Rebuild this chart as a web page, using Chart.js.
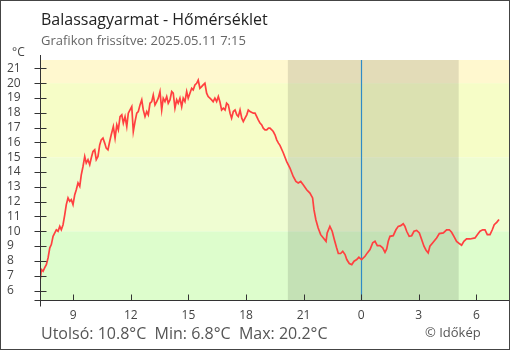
<!DOCTYPE html>
<html>
<head>
<meta charset="utf-8">
<script src="https://cdn.jsdelivr.net/npm/chart.js@4"></script>
<style>
  html, body { margin: 0; padding: 0; background: #fff; }
  #wrap { width: 510px; height: 350px; }
</style>
</head>
<body>
<div id="wrap"><canvas id="tempChart" width="510" height="350"></canvas></div>
<script>
var FONT = "'Open Sans', 'Noto Sans', sans-serif";

// measurement times, hours since the previous midnight (24 = 0:00 next day)
var hours = [
  7.29, 7.34, 7.43, 7.51, 7.60, 7.69, 7.78, 7.86, 7.95, 8.04, 8.12, 8.21, 8.30, 8.38, 8.47,
  8.56, 8.64, 8.73, 8.82, 8.90, 8.99, 9.08, 9.16, 9.25, 9.34, 9.42, 9.51, 9.60, 9.68, 9.77,
  9.86, 9.94, 10.03, 10.12, 10.20, 10.29, 10.38, 10.46, 10.55, 10.64, 10.72, 10.81, 10.90, 10.98,
  11.09, 11.18, 11.27, 11.35, 11.44, 11.53, 11.61, 11.70, 11.79, 11.87, 11.96, 12.05, 12.13, 12.22, 12.31,
  12.39, 12.48, 12.57, 12.65, 12.74, 12.83, 12.91, 13.00, 13.09, 13.17, 13.26, 13.35, 13.43, 13.52, 13.61,
  13.69, 13.78, 13.87, 13.95, 14.04, 14.13, 14.21, 14.30, 14.39, 14.47, 14.56, 14.65, 14.73, 14.82, 14.91,
  14.99, 15.08, 15.17, 15.25, 15.34, 15.43, 15.51, 15.60, 15.69, 15.77, 15.86, 15.95, 16.03, 16.12, 16.21,
  16.29, 16.38, 16.47, 16.56, 16.64, 16.73, 16.82, 16.91, 16.99, 17.08, 17.17, 17.25, 17.34, 17.43, 17.52,
  17.60, 17.69, 17.78, 17.86, 17.95, 18.04, 18.12, 18.21, 18.38, 18.47, 18.56, 18.64, 18.73, 18.82, 18.90,
  18.99, 19.08, 19.17, 19.25, 19.34, 19.42, 19.51, 19.60, 19.69, 19.77, 19.94, 20.12, 20.29, 20.46, 20.60,
  20.72, 20.85, 20.98, 21.16, 21.33, 21.47, 21.54, 21.64, 21.76, 21.89, 22.03, 22.17, 22.23, 22.37, 22.49,
  22.60, 22.72, 22.81, 22.93, 23.04, 23.16, 23.25, 23.38, 23.51, 23.63, 23.77, 23.88, 24.02, 24.20, 24.32,
  24.46, 24.60, 24.72, 24.84, 24.98, 25.12, 25.24, 25.33, 25.41, 25.50, 25.67, 25.81, 25.93, 26.06, 26.19,
  26.28, 26.37, 26.50, 26.63, 26.75, 26.89, 27.03, 27.15, 27.27, 27.38, 27.49, 27.58, 27.75, 27.93, 28.07,
  28.28, 28.45, 28.59, 28.71, 28.83, 28.97, 29.11, 29.23, 29.35, 29.49, 29.67, 29.93, 30.05, 30.19, 30.33,
  30.45, 30.57, 30.71, 30.83, 30.93, 31.06, 31.18
];
// temperature, °C
var temps = [
  6.8, 7.42, 7.3, 7.53, 7.75, 8.2, 8.88, 9.1, 9.66, 9.89, 10.1, 10.0, 10.33, 10.1, 10.44,
  11.12, 11.8, 12.25, 12.02, 12.13, 11.8, 12.47, 12.8, 13.26, 13.03, 13.81, 14.37, 15.05, 14.6, 14.83,
  14.49, 14.94, 15.38, 15.5, 14.83, 15.05, 15.83, 16.17, 16.29, 15.95, 15.61, 15.5, 16.06, 16.51,
  17.07, 16.29, 17.18, 16.85, 17.74, 17.86, 17.3, 17.74, 17.07, 17.97, 18.19, 18.41, 16.73, 17.4, 17.97,
  18.08, 18.53, 18.87, 18.19, 17.74, 18.08, 17.86, 18.64, 18.75, 19.2, 18.53, 18.75, 18.98, 19.43, 18.19,
  18.98, 18.75, 19.09, 18.64, 18.87, 19.43, 19.32, 18.31, 18.87, 18.64, 18.98, 18.41, 18.98, 18.75, 19.43,
  18.98, 19.32, 19.65, 19.54, 19.88, 19.99, 20.2, 19.65, 19.76, 19.88, 19.99, 19.32, 19.09, 18.98, 18.87,
  18.75, 18.98, 18.75, 19.09, 18.75, 18.19, 18.31, 18.19, 18.64, 18.53, 17.97, 17.63, 18.08, 18.19, 17.86,
  17.74, 18.19, 17.63, 17.4, 17.63, 17.86, 18.19, 18.08, 17.97, 17.97, 17.74, 17.52, 17.3, 17.18, 16.96,
  16.85, 16.85, 16.96, 16.96, 16.85, 16.73, 16.51, 16.17, 15.95, 15.8, 15.3, 14.7, 14.27, 13.7, 13.36,
  13.26, 13.36, 13.14, 12.8, 12.58, 12.25, 11.46, 10.78, 10.22, 9.77, 9.55, 9.32, 9.89, 10.33, 10.0,
  9.44, 8.88, 8.5, 8.5, 8.65, 8.43, 8.09, 7.82, 7.75, 7.98, 8.09, 8.25, 8.09, 8.31, 8.54,
  8.77, 9.22, 9.32, 9.03, 9.03, 8.88, 8.58, 8.81, 9.32, 9.66, 9.7, 10.1, 10.33, 10.38, 10.51,
  10.33, 10.0, 9.66, 9.7, 10.0, 10.06, 9.89, 9.44, 8.99, 8.72, 8.54, 8.99, 9.26, 9.55, 9.84,
  9.89, 10.1, 10.1, 9.93, 9.66, 9.32, 9.17, 9.06, 9.32, 9.48, 9.48, 9.55, 9.77, 10.0, 10.1,
  10.1, 9.77, 9.77, 10.1, 10.44, 10.6, 10.8
];

var xTicks = [9, 12, 15, 18, 21, 24, 27, 30];
var yTicks = [6, 7, 8, 9, 10, 11, 12, 13, 14, 15, 16, 17, 18, 19, 20, 21];

// temperature bands behind the line
var bandFrom = [5, 10, 15, 20];
var bandTo = [10, 15, 20, 22];
var bandColor = ["#ddfdcc", "#effdd2", "#f6fdc7", "#fff8cf"];

var sunset = 20.18, sunrise = 29.08, midnight = 24;

var title = "Balassagyarmat - Hőmérséklet";
var subtitle = "Grafikon frissítve: 2025.05.11 7:15";
var footer = "Utolsó: 10.8°C  Min: 6.8°C  Max: 20.2°C";
var credit = "© Időkép";

var points = hours.map(function (h, i) { return { x: h, y: temps[i] }; });

var backdrop = {
  id: "backdrop",
  beforeDatasetsDraw: function (chart) {
    var ctx = chart.ctx, a = chart.chartArea;
    var xs = chart.scales.x, ys = chart.scales.y;
    ctx.save();
    for (var i = 0; i < bandFrom.length; i++) {
      var y1 = Math.max(ys.getPixelForValue(bandTo[i]), a.top);
      var y2 = Math.min(ys.getPixelForValue(bandFrom[i]), a.bottom);
      ctx.fillStyle = bandColor[i];
      ctx.fillRect(a.left, y1, a.right - a.left, y2 - y1);
    }
    // night
    var n1 = xs.getPixelForValue(sunset), n2 = xs.getPixelForValue(sunrise);
    ctx.fillStyle = "rgba(0,0,0,0.11)";
    ctx.fillRect(n1, a.top, n2 - n1, a.bottom - a.top);
    // midnight marker
    var m = Math.round(xs.getPixelForValue(midnight)) + 0.5;
    ctx.strokeStyle = "#2f8bc6";
    ctx.lineWidth = 1.2;
    ctx.beginPath();
    ctx.moveTo(m, a.top);
    ctx.lineTo(m, a.bottom);
    ctx.stroke();
    ctx.restore();
  },
  afterDraw: function (chart) {
    var ctx = chart.ctx, a = chart.chartArea;
    var xs = chart.scales.x, ys = chart.scales.y;
    ctx.save();
    ctx.strokeStyle = "#333";
    ctx.lineWidth = 1;
    var left = Math.round(a.left) + 0.5, bottom = Math.round(a.bottom) + 0.5;
    ctx.beginPath();
    // axes
    ctx.moveTo(left, a.top - 5);
    ctx.lineTo(left, bottom + 6);
    ctx.moveTo(left - 6, bottom);
    ctx.lineTo(a.right, bottom);
    // y ticks cross the axis
    yTicks.forEach(function (v) {
      var y = Math.round(ys.getPixelForValue(v)) + 0.5;
      ctx.moveTo(left - 6, y);
      ctx.lineTo(left + 6, y);
    });
    // x ticks point inward
    xTicks.forEach(function (v) {
      var x = Math.round(xs.getPixelForValue(v)) + 0.5;
      ctx.moveTo(x, bottom - 6);
      ctx.lineTo(x, bottom);
    });
    ctx.stroke();

    ctx.textBaseline = "alphabetic";
    ctx.textAlign = "left";
    ctx.fillStyle = "#222";
    ctx.font = "16px " + FONT;
    ctx.fillText(title, 41, 25);
    ctx.fillStyle = "#666";
    ctx.font = "13px " + FONT;
    ctx.fillText(subtitle, 41, 45);
    ctx.fillStyle = "#444";
    ctx.font = "12px " + FONT;
    ctx.fillText("°C", 12, 56);
    ctx.fillStyle = "#555";
    ctx.font = "16px " + FONT;
    ctx.fillText(footer, 41, 339);
    ctx.font = "13px " + FONT;
    ctx.fillText(credit, 425, 337);

    // frame
    ctx.strokeStyle = "#444";
    ctx.strokeRect(0.5, 0.5, 509, 349);
    ctx.restore();
  }
};

var chart = new Chart(document.getElementById("tempChart"), {
  type: "line",
  data: {
    datasets: [{
      data: points,
      borderColor: "#ff4040",
      borderWidth: 1.7,
      pointRadius: 0,
      tension: 0,
      fill: false
    }]
  },
  options: {
    responsive: false,
    animation: false,
    layout: { padding: { top: 60, left: 7, right: 1, bottom: 0 } },
    plugins: { legend: { display: false }, tooltip: { enabled: false } },
    scales: {
      x: {
        type: "linear",
        min: 7.27,
        max: 31.7,
        grid: { display: false, drawTicks: false },
        border: { display: false },
        afterBuildTicks: function (s) { s.ticks = xTicks.map(function (v) { return { value: v }; }); },
        afterFit: function (s) { s.height = 50; },
        ticks: {
          padding: 8,
          autoSkip: false,
          color: "#444",
          font: { family: FONT, size: 12 },
          maxRotation: 0,
          callback: function (v) { return String(v % 24); }
        }
      },
      y: {
        min: 5.36,
        max: 21.56,
        grid: { display: false, drawTicks: false },
        border: { display: false },
        afterBuildTicks: function (s) { s.ticks = yTicks.map(function (v) { return { value: v }; }); },
        afterFit: function (s) { s.width = 33; },
        ticks: {
          crossAlign: "far",
          autoSkip: false,
          color: "#444",
          font: { family: FONT, size: 12 },
          callback: function (v) { return String(v); }
        }
      }
    }
  },
  plugins: [backdrop]
});
</script>
</body>
</html>
